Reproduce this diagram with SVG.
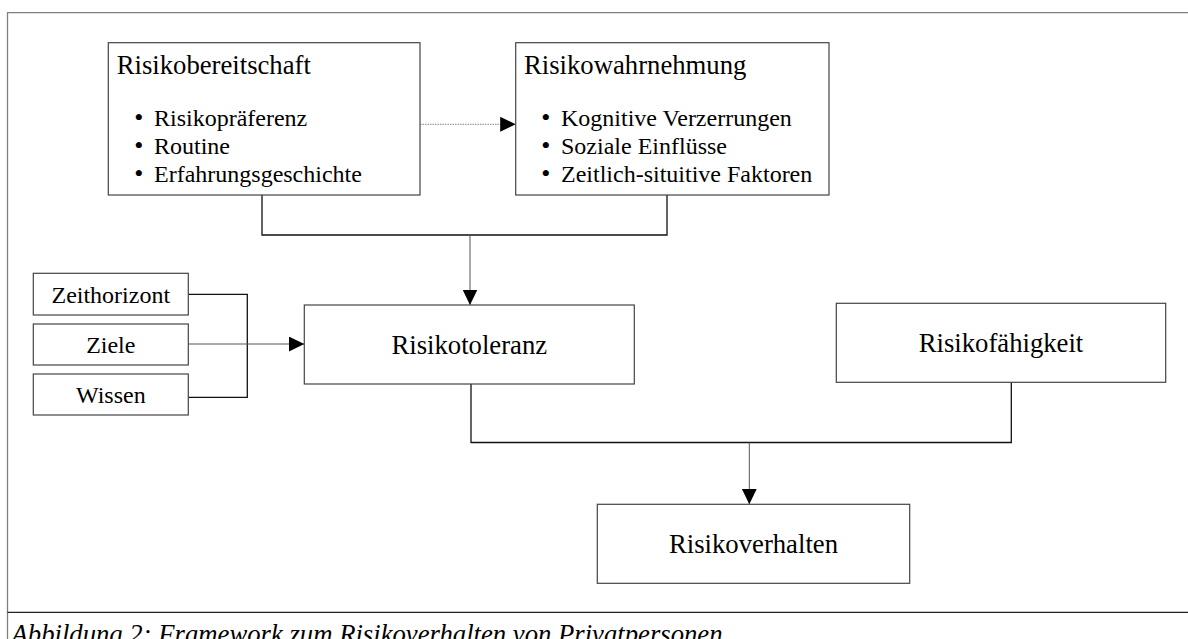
<svg xmlns="http://www.w3.org/2000/svg" width="1188" height="639" viewBox="0 0 1188 639">
<style>
.box{fill:#fff;stroke:#444;stroke-width:1.2}
.t{font-family:"Liberation Serif","Times New Roman",serif;font-size:26.7px;fill:#000}
.s{font-family:"Liberation Serif","Times New Roman",serif;font-size:24px;fill:#000}
.b{font-size:26px}
.c{fill:none;stroke:#111;stroke-width:1.3}
.a{fill:none;stroke:#555;stroke-width:1}
.d{fill:none;stroke:#888;stroke-width:1;stroke-dasharray:1.5 1}
</style>
<defs>
<marker id="ah" markerUnits="userSpaceOnUse" markerWidth="16" markerHeight="16" refX="15.5" refY="7.5" orient="auto">
<path d="M0,0 L15.5,7.5 L0,15 z" fill="#000"/>
</marker>
</defs>
<rect width="1188" height="639" fill="#fff"/>
<g id="frame">
<path d="M7.5,639 V12.7 H1188" fill="none" stroke="#808080" stroke-width="1.3"/>
<path d="M7.5,612.3 H1188" fill="none" stroke="#222" stroke-width="1.3"/>
<text x="11.5" y="642.5" class="t" font-style="italic">Abbildung 2: Framework zum Risikoverhalten von Privatpersonen</text>
</g>
<g id="connectors">
<path class="c" d="M262,195 V235 H667 V195"/>
<path class="a" d="M470,235 V305" marker-end="url(#ah)"/>
<path class="d" d="M420,124.3 H515.7" marker-end="url(#ah)"/>
<path class="c" d="M188.3,294.3 H247.3 V397.3 H188.3"/>
<path class="a" d="M188.3,344 H304.3" marker-end="url(#ah)"/>
<path class="c" d="M471,384 V442.5 H1011.3 V382.3"/>
<path class="a" d="M749.3,442.5 V504.3" marker-end="url(#ah)"/>
</g>
<g id="risikobereitschaft">
<rect class="box" x="108.3" y="42.7" width="311.7" height="152.3"/>
<text class="t" x="116.7" y="74.3">Risikobereitschaft</text>
<text class="s" y="125.5"><tspan class="b" x="134.2">•</tspan><tspan x="154">Risikopräferenz</tspan></text>
<text class="s" y="153.5"><tspan class="b" x="134.2">•</tspan><tspan x="154">Routine</tspan></text>
<text class="s" y="181.5"><tspan class="b" x="134.2">•</tspan><tspan x="154">Erfahrungsgeschichte</tspan></text>
</g>
<g id="risikowahrnehmung">
<rect class="box" x="515.7" y="42.7" width="313.3" height="152.3"/>
<text class="t" x="524" y="74.3">Risikowahrnehmung</text>
<text class="s" y="125.5"><tspan class="b" x="541.2">•</tspan><tspan x="561">Kognitive Verzerrungen</tspan></text>
<text class="s" y="153.5"><tspan class="b" x="541.2">•</tspan><tspan x="561">Soziale Einflüsse</tspan></text>
<text class="s" y="181.5"><tspan class="b" x="541.2">•</tspan><tspan x="561">Zeitlich-situitive Faktoren</tspan></text>
</g>
<g id="zeithorizont">
<rect class="box" x="33.3" y="273.3" width="155" height="41.7"/>
<text class="s" x="110.8" y="302.7" text-anchor="middle">Zeithorizont</text>
</g>
<g id="ziele">
<rect class="box" x="33.3" y="324" width="155" height="41"/>
<text class="s" x="110.8" y="353.3" text-anchor="middle">Ziele</text>
</g>
<g id="wissen">
<rect class="box" x="33.3" y="374" width="155" height="41"/>
<text class="s" x="110.8" y="403.3" text-anchor="middle">Wissen</text>
</g>
<g id="risikotoleranz">
<rect class="box" x="304.3" y="305" width="330" height="79"/>
<text class="t" x="469.3" y="354" text-anchor="middle">Risikotoleranz</text>
</g>
<g id="risikofaehigkeit">
<rect class="box" x="836.3" y="303.3" width="329.4" height="79"/>
<text class="t" x="1001" y="351.7" text-anchor="middle">Risikofähigkeit</text>
</g>
<g id="risikoverhalten">
<rect class="box" x="597.3" y="504.3" width="312.4" height="79"/>
<text class="t" x="753.5" y="553.3" text-anchor="middle">Risikoverhalten</text>
</g>
</svg>
